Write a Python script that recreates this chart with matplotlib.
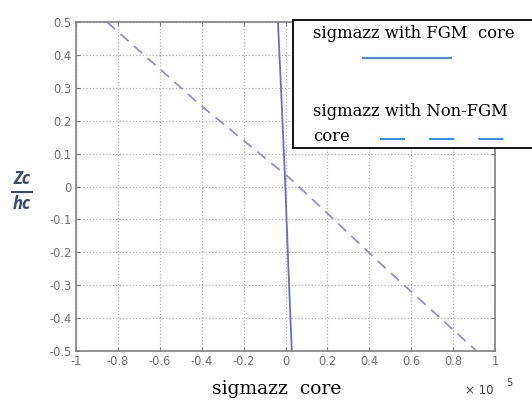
import numpy as np
import matplotlib as mpl
mpl.use('Agg')
import matplotlib.pyplot as plt
from matplotlib.lines import Line2D
from matplotlib.patches import Rectangle

# sigma_zz (x 1e5) through the core thickness, z/h from +0.5 down to -0.5
zc = [0.5, 0.25, 0.02, -0.25, -0.5]
sig_fgm = [-0.036, -0.018, -0.002, 0.014, 0.030]
sig_nonfgm = [-0.852, -0.411, 0.030, 0.480, 0.912]

xticks = [-1, -0.8, -0.6, -0.4, -0.2, 0, 0.2, 0.4, 0.6, 0.8, 1]
xticklabels = ['-1', '-0.8', '-0.6', '-0.4', '-0.2', '0', '0.2', '0.4', '0.6', '0.8', '1']
yticks = [-0.5, -0.4, -0.3, -0.2, -0.1, 0, 0.1, 0.2, 0.3, 0.4, 0.5]
yticklabels = ['-0.5', '-0.4', '-0.3', '-0.2', '-0.1', '0', '0.1', '0.2', '0.3', '0.4', '0.5']

W, H = 532, 401
fig = plt.figure(figsize=(W / 100, H / 100), dpi=100)
ax = fig.add_axes([76 / W, 1 - 351 / H, (495 - 76) / W, (351 - 22) / H])

ax.plot(sig_fgm, zc, '-', color='#6b6bc8', lw=1.3)
ax.plot(sig_nonfgm, zc, '--', color='#9090d0', lw=1.3, dashes=(6, 4))

ax.set_xlim(-1, 1)
ax.set_ylim(-0.5, 0.5)
ax.set_xticks(xticks)
ax.set_xticklabels(xticklabels)
ax.set_yticks(yticks)
ax.set_yticklabels(yticklabels)
ax.grid(True, ls=':', color='#b0b0b0', lw=0.9)
ax.tick_params(direction='in', length=3, top=True, right=True,
               labelsize=8.3, labelcolor='#707070', color='#808080', pad=3)
for s in ax.spines.values():
    s.set_color('#808080')
    s.set_linewidth(1.2)

# y label as a stacked fraction
lab_color = '#3b4a6b'
fig.text(22 / W, 1 - 179 / H, 'Zc', ha='center', va='center', fontsize=12,
         style='italic', weight='bold', color=lab_color, family='Open Sans')
fig.add_artist(Line2D([12 / W, 32 / W], [1 - 192 / H, 1 - 192 / H], color=lab_color, lw=1.5))
fig.text(22 / W, 1 - 204 / H, 'hc', ha='center', va='center', fontsize=12,
         style='italic', weight='bold', color=lab_color, family='Open Sans')

fig.text(277 / W, 1 - 389 / H, 'sigmazz  core', ha='center', va='center',
         fontsize=13.5, family='DejaVu Serif')
fig.text(465 / W, 1 - 391 / H, '\u00d7 10', ha='left', va='center',
         fontsize=8.5, color='#404040')
fig.text(506 / W, 1 - 383 / H, '5', ha='left', va='center',
         fontsize=7, color='#404040')

# legend box drawn by hand, running off the right edge
fig.add_artist(Rectangle((293 / W, 1 - 148 / H), (560 - 293) / W, (148 - 20) / H,
                         transform=fig.transFigure, facecolor='white',
                         edgecolor='black', lw=1.3))
serif = dict(family='DejaVu Serif', fontsize=11.8, va='center', ha='left')
fig.text(313 / W, 1 - 34 / H, 'sigmazz with FGM  core', **serif)
fig.add_artist(Line2D([363 / W, 451 / W], [1 - 58 / H, 1 - 58 / H],
                      color='#2a8cff', lw=1.4))
fig.text(313 / W, 1 - 111 / H, 'sigmazz with Non-FGM', **serif)
fig.text(313 / W, 1 - 137 / H, 'core', **serif)
fig.add_artist(Line2D([380 / W, 505 / W], [1 - 139 / H, 1 - 139 / H],
                      color='#2a8cff', lw=1.4, ls=(0, (12.9, 12.4))))

fig.savefig('out.png', dpi=100)
